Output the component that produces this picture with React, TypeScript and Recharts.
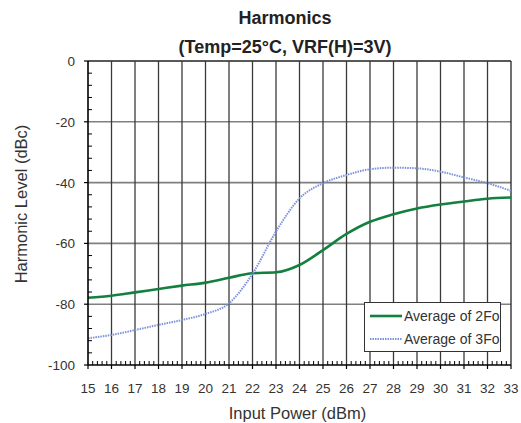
import React from 'react';
import { LineChart, Line, XAxis, YAxis, ReferenceLine } from 'recharts';

const inputPower = [15, 16, 17, 18, 19, 20, 21, 22, 23, 24, 25, 26, 27, 28, 29, 30, 31, 32, 33];
const avg2Fo = [-77.9, -77.2, -76.1, -75.0, -73.9, -72.9, -71.3, -69.8, -69.5, -67.1, -62.2, -56.9, -52.9, -50.4, -48.5, -47.2, -46.2, -45.3, -44.9];
const avg3Fo = [-91.2, -90.1, -88.5, -86.8, -85.2, -83.2, -79.7, -70.0, -56.1, -45.2, -40.2, -37.5, -35.6, -35.1, -35.3, -36.4, -38.3, -40.2, -42.7];

const xMajorTicks = [15, 16, 17, 18, 19, 20, 21, 22, 23, 24, 25, 26, 27, 28, 29, 30, 31, 32, 33];
const yMajorTicks = [0, -20, -40, -60, -80, -100];
const xMinorStep = 0.2;
const yMinorStep = 4;

const seriesNames = ['Average of 2Fo', 'Average of 3Fo'];
const titleLines = ['Harmonics', '(Temp=25°C, VRF(H)=3V)'];
const xTitle = 'Input Power (dBm)';
const yTitle = 'Harmonic Level (dBc)';

const data = inputPower.map((p, i) => ({ p, a2: avg2Fo[i], a3: avg3Fo[i] }));

const xAllTicks: number[] = [];
for (let i = 0; i <= Math.round((33 - 15) / xMinorStep); i++) {
  xAllTicks.push(Math.round((15 + i * xMinorStep) * 1000) / 1000);
}
const yAllTicks: number[] = [];
for (let v = -100; v <= 0; v += yMinorStep) yAllTicks.push(v);

const GREEN = '#13803f';
const BLUE = '#7d92d8';
const FONT = '"Liberation Sans", Arial, sans-serif';

const isInt = (v: number) => Math.abs(v - Math.round(v)) < 1e-6;

const XTick = (props: any) => {
  const { x, y, payload } = props;
  const v = payload.value;
  const major = isInt(v);
  return (
    <g>
      {major ? (
        <line x1={x} x2={x} y1={y} y2={y + 4} stroke="#000" strokeWidth={1.2} />
      ) : (
        <line x1={x} x2={x} y1={y} y2={y - 4} stroke="#000" strokeWidth={1} />
      )}
      {major && (
        <text x={x} y={y + 28} textAnchor="middle" fontSize={13.5} fontFamily={FONT} fill="#333">
          {Math.round(v)}
        </text>
      )}
    </g>
  );
};

const YTick = (props: any) => {
  const { x, y, payload } = props;
  const v = payload.value;
  const major = yMajorTicks.includes(v);
  return (
    <g>
      {major ? (
        <line x1={x - 4} x2={x} y1={y} y2={y} stroke="#000" strokeWidth={1.2} />
      ) : (
        <line x1={x} x2={x + 4} y1={y} y2={y} stroke="#000" strokeWidth={1} />
      )}
      {major && (
        <text x={x - 13} y={y + 5} textAnchor="end" fontSize={13.5} fontFamily={FONT} fill="#333">
          {v}
        </text>
      )}
    </g>
  );
};

const YLabel = (props: any) => {
  const vb = props.viewBox || { x: 0, y: 61, width: 88, height: 304 };
  const cx = vb.x + 21;
  const cy = vb.y + vb.height / 2 - 9;
  return (
    <text
      x={cx}
      y={cy}
      transform={`rotate(-90, ${cx}, ${cy})`}
      textAnchor="middle"
      dominantBaseline="central"
      fontSize={16.5}
      fontFamily={FONT}
      fill="#333"
    >
      {yTitle}
    </text>
  );
};

const XLabel = (props: any) => {
  const vb = props.viewBox || { x: 88, y: 365, width: 423, height: 58 };
  return (
    <text
      x={vb.x + vb.width / 2 - 2}
      y={vb.y + 54}
      textAnchor="middle"
      fontSize={16.5}
      fontFamily={FONT}
      fill="#333"
    >
      {xTitle}
    </text>
  );
};

export default function App() {
  return (
    <div style={{ position: 'absolute', left: 0, top: 0, width: 521, height: 423, background: '#fff' }}>
      <div
        style={{
          position: 'absolute', left: 135, width: 300, top: 7, textAlign: 'center',
          fontFamily: FONT, fontWeight: 'bold', fontSize: 18, lineHeight: '22px', color: '#222',
        }}
      >
        {titleLines[0]}
      </div>
      <div
        style={{
          position: 'absolute', left: 135, width: 300, top: 36, textAlign: 'center',
          fontFamily: FONT, fontWeight: 'bold', fontSize: 18, lineHeight: '22px', color: '#222',
        }}
      >
        {titleLines[1]}
      </div>
      <LineChart width={521} height={423} data={data} margin={{ top: 61, right: 10, bottom: 0, left: 0 }}>
        {yMajorTicks.filter((v) => v !== -100).map((v) => (
          <ReferenceLine key={'h' + v} y={v} stroke={v === 0 ? '#222' : '#808080'} strokeWidth={1.6} ifOverflow="visible" />
        ))}
        {xMajorTicks.filter((v) => v !== 15).map((v) => (
          <ReferenceLine key={'v' + v} x={v} stroke={v === 33 ? '#222' : '#3a3a3a'} strokeWidth={1.3} ifOverflow="visible" />
        ))}
        <XAxis
          dataKey="p"
          type="number"
          domain={[15, 33]}
          ticks={xAllTicks}
          interval={0}
          height={58}
          tickSize={0}
          tickMargin={0}
          tickLine={false}
          tick={<XTick />}
          axisLine={{ stroke: '#000', strokeWidth: 1.6 }}
          label={<XLabel />}
        />
        <YAxis
          type="number"
          domain={[-100, 0]}
          ticks={yAllTicks}
          interval={0}
          width={88}
          tickSize={0}
          tickMargin={0}
          tickLine={false}
          tick={<YTick />}
          axisLine={{ stroke: '#000', strokeWidth: 1.6 }}
          label={<YLabel />}
        />
        <Line
          type="monotone"
          dataKey="a2"
          name={seriesNames[0]}
          stroke={GREEN}
          strokeWidth={2.6}
          dot={false}
          isAnimationActive={false}
        />
        <Line
          type="monotone"
          dataKey="a3"
          name={seriesNames[1]}
          stroke={BLUE}
          strokeWidth={2}
          strokeDasharray="1.5 1"
          dot={false}
          isAnimationActive={false}
        />
      </LineChart>
      <div
        style={{
          position: 'absolute', left: 364, top: 302, width: 137, height: 50, boxSizing: 'border-box',
          border: '1px solid #333', background: '#fff', fontFamily: FONT, fontSize: 14, color: '#333',
        }}
      >
        {seriesNames.map((name, i) => (
          <div key={name} style={{ position: 'absolute', left: 4, top: i === 0 ? 3 : 26, height: 20, display: 'flex', alignItems: 'center' }}>
            <svg width={33} height={20} style={{ display: 'block' }}>
              <line
                x1={1} x2={33} y1={10} y2={10}
                stroke={i === 0 ? GREEN : BLUE}
                strokeWidth={i === 0 ? 2.6 : 2}
                strokeDasharray={i === 0 ? undefined : '1.5 1'}
              />
            </svg>
            <span style={{ marginLeft: 2, whiteSpace: 'nowrap' }}>{name}</span>
          </div>
        ))}
      </div>
    </div>
  );
}
